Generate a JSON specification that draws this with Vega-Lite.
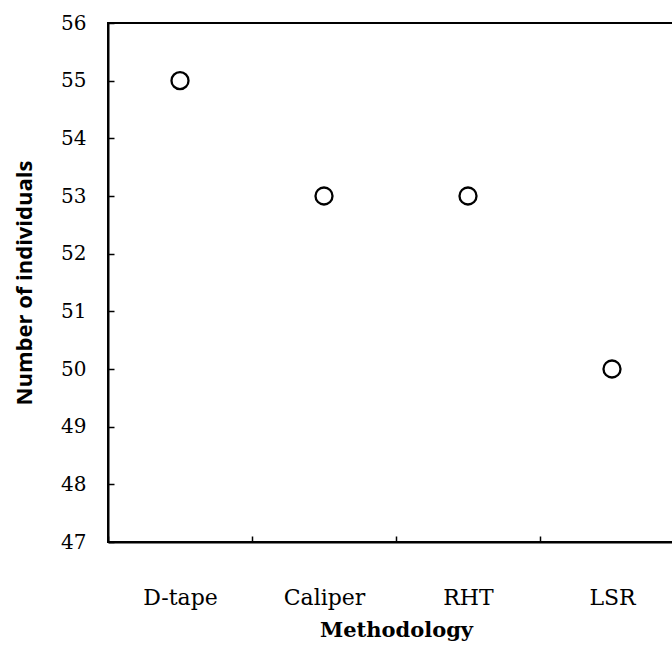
{
  "$schema": "https://vega.github.io/schema/vega-lite/v6.json",
  "autosize": "none",
  "padding": {"left": 108, "top": 23, "right": 0, "bottom": 107},
  "width": 576,
  "height": 519,
  "background": "white",
  "data": {"values": [
    {"method": "D-tape", "n": 55},
    {"method": "Caliper", "n": 53},
    {"method": "RHT", "n": 53},
    {"method": "LSR", "n": 50}
  ]},
  "mark": {"type": "point", "shape": "circle", "filled": false, "size": 290, "stroke": "black", "strokeWidth": 2.3, "opacity": 1},
  "encoding": {
    "x": {
      "field": "method", "type": "nominal", "sort": null,
      "scale": {"paddingInner": 0, "paddingOuter": 0},
      "axis": {"title": "Methodology", "labelAngle": 0, "tickBand": "extent", "labelPadding": 51, "labelFontSize": 22, "titlePadding": 11}
    },
    "y": {
      "field": "n", "type": "quantitative",
      "scale": {"domain": [47, 56], "nice": false, "zero": false},
      "axis": {"title": "Number of individuals", "values": [47,48,49,50,51,52,53,54,55,56], "grid": false, "labelPadding": 28, "titlePadding": 24, "titleFont": "Open Sans", "titleFontSize": 22, "titleFontWeight": "bold"}
    }
  },
  "config": {
    "view": {"stroke": "black", "strokeWidth": 2},
    "axis": {
      "domainColor": "black", "domainWidth": 2,
      "tickColor": "black", "tickWidth": 1.5, "tickSize": -6,
      "labelFont": "DejaVu Serif", "labelFontSize": 20, "labelColor": "black",
      "titleFont": "DejaVu Serif", "titleFontSize": 21, "titleFontWeight": "bold", "titleColor": "black",
      "grid": false
    }
  }
}
